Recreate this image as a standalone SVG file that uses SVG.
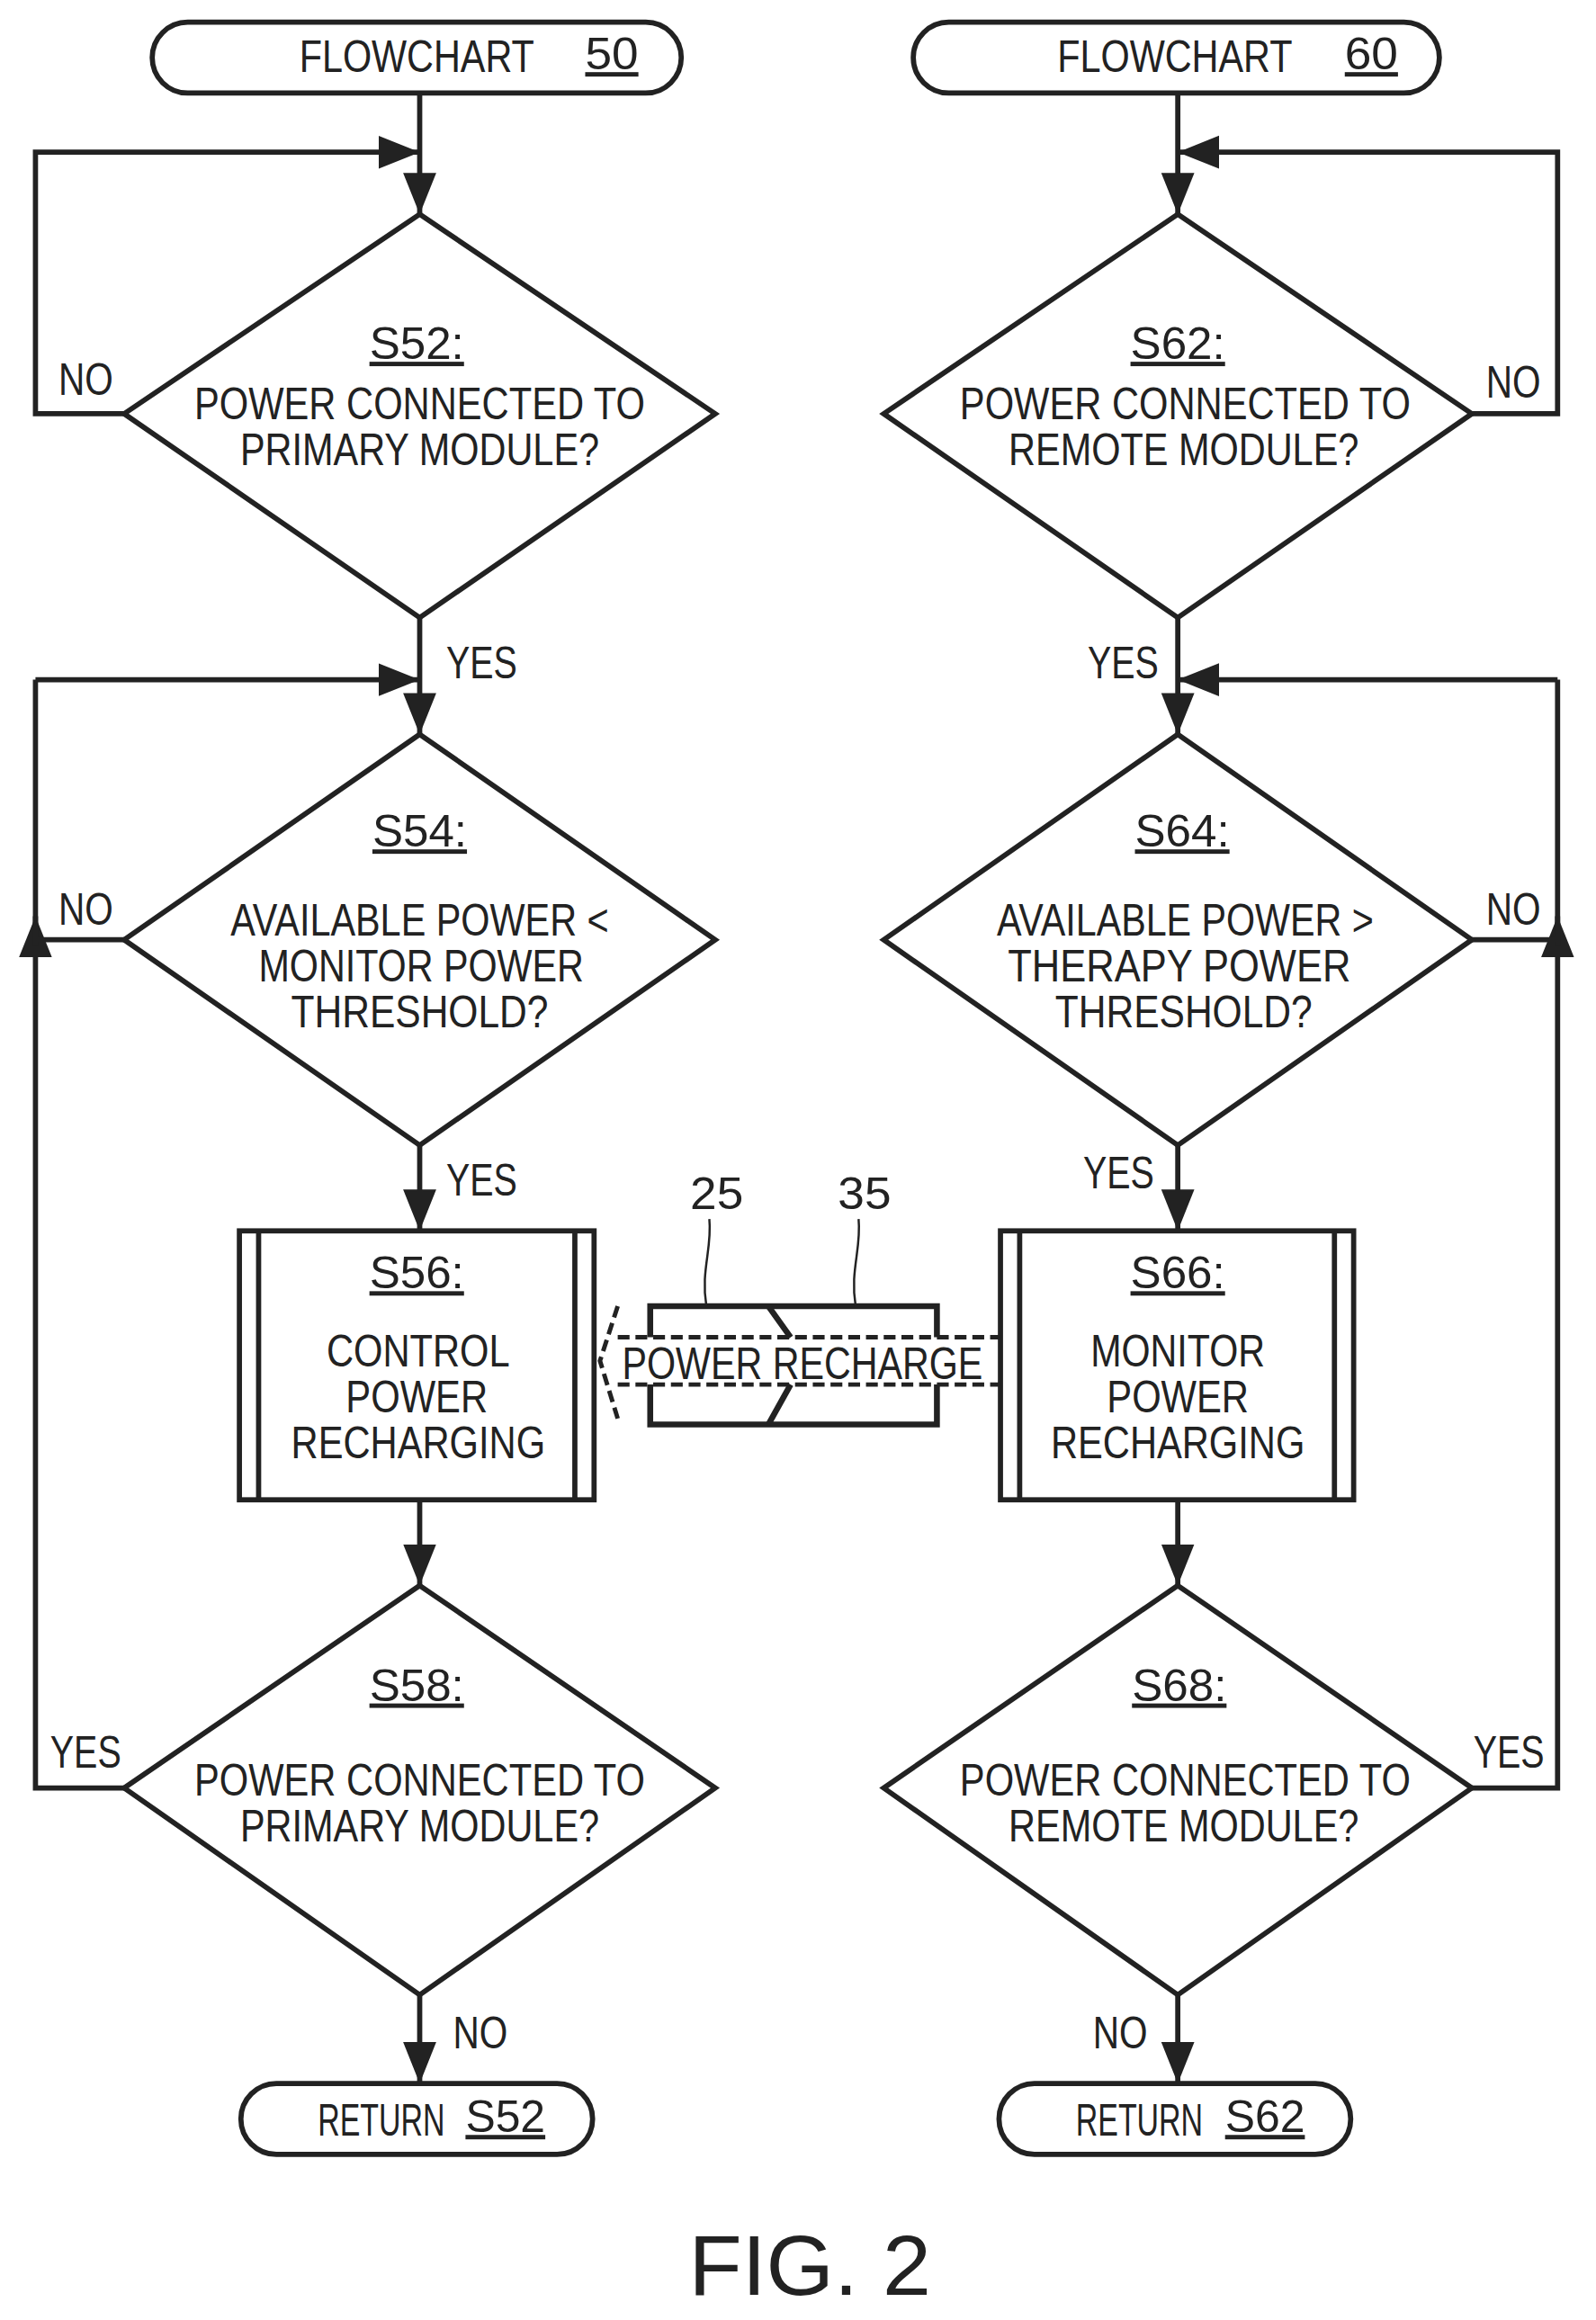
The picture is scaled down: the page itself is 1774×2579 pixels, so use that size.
<svg xmlns="http://www.w3.org/2000/svg" width="1774" height="2579" viewBox="0 0 1774 2579">
<style>
.s{fill:none;stroke:#222;stroke-width:3.5}
.w{fill:#fff;stroke:#222;stroke-width:3.5}
text{font-family:"Liberation Sans",Arial,sans-serif;fill:#222;font-size:30px;text-anchor:middle}
.u{text-decoration:underline}
.d{fill:none;stroke:#222;stroke-width:3;stroke-dasharray:8 4}
</style>
<defs>
<marker id="A" viewBox="0 0 10 10" refX="10" refY="5" markerWidth="28" markerHeight="28" orient="auto" markerUnits="userSpaceOnUse"><path d="M0,1L10,5L0,9z" fill="#222"/></marker></defs>
<rect width="1774" height="2579" fill="#fff"/>
<g transform="scale(1.6426)">
<g id="connectors">
<path class="s" d="M284,63V145" marker-end="url(#A)"/>
<path class="s" d="M84,280H24V103H284" marker-end="url(#A)"/>
<path class="s" d="M284,418V497" marker-end="url(#A)"/>
<path class="s" d="M24,460H284" marker-end="url(#A)"/>
<path class="s" d="M84,1210H24V620" marker-end="url(#A)"/>
<path class="s" d="M84,636H24M24,640V460"/>
<path class="s" d="M284,775V833" marker-end="url(#A)"/>
<path class="s" d="M284,1015V1073" marker-end="url(#A)"/>
<path class="s" d="M284,1350V1410" marker-end="url(#A)"/>
<path class="s" d="M797,63V145" marker-end="url(#A)"/>
<path class="s" d="M996,280H1054V103H797" marker-end="url(#A)"/>
<path class="s" d="M797,418V497" marker-end="url(#A)"/>
<path class="s" d="M1054,460H797" marker-end="url(#A)"/>
<path class="s" d="M996,1210H1054V620" marker-end="url(#A)"/>
<path class="s" d="M996,636H1054M1054,640V460"/>
<path class="s" d="M797,775V833" marker-end="url(#A)"/>
<path class="s" d="M797,1015V1073" marker-end="url(#A)"/>
<path class="s" d="M797,1350V1410" marker-end="url(#A)"/>
<text x="58" y="267" textLength="37" lengthAdjust="spacingAndGlyphs">NO</text>
<text x="326" y="459" textLength="48" lengthAdjust="spacingAndGlyphs">YES</text>
<text x="58" y="626" textLength="37" lengthAdjust="spacingAndGlyphs">NO</text>
<text x="326" y="809" textLength="48" lengthAdjust="spacingAndGlyphs">YES</text>
<text x="58" y="1196" textLength="48" lengthAdjust="spacingAndGlyphs">YES</text>
<text x="325" y="1386" textLength="37" lengthAdjust="spacingAndGlyphs">NO</text>
<text x="1024" y="269" textLength="37" lengthAdjust="spacingAndGlyphs">NO</text>
<text x="760" y="459" textLength="48" lengthAdjust="spacingAndGlyphs">YES</text>
<text x="1024" y="626" textLength="37" lengthAdjust="spacingAndGlyphs">NO</text>
<text x="757" y="804" textLength="48" lengthAdjust="spacingAndGlyphs">YES</text>
<text x="1021" y="1196" textLength="48" lengthAdjust="spacingAndGlyphs">YES</text>
<text x="758" y="1386" textLength="37" lengthAdjust="spacingAndGlyphs">NO</text>
</g>
<g id="start50"><rect class="w" x="103" y="15" width="358" height="48" rx="24"/><text x="282" y="49" textLength="159" lengthAdjust="spacingAndGlyphs">FLOWCHART</text><text class="u" x="414" y="47" textLength="36" lengthAdjust="spacingAndGlyphs">50</text></g>
<g id="start60"><rect class="w" x="618" y="15" width="356" height="48" rx="24"/><text x="795" y="49" textLength="159" lengthAdjust="spacingAndGlyphs">FLOWCHART</text><text class="u" x="928" y="47" textLength="36" lengthAdjust="spacingAndGlyphs">60</text></g>
<g id="S52"><path class="w" d="M284,145L484,280L284,418L84,280z"/><text class="u" x="282" y="243" textLength="64" lengthAdjust="spacingAndGlyphs">S52:</text><text x="284" y="284" textLength="305" lengthAdjust="spacingAndGlyphs">POWER CONNECTED TO</text><text x="284" y="315" textLength="243" lengthAdjust="spacingAndGlyphs">PRIMARY MODULE?</text></g>
<g id="S54"><path class="w" d="M284,497L484,636L284,775L84,636z"/><text class="u" x="284" y="573" textLength="64" lengthAdjust="spacingAndGlyphs">S54:</text><text x="284" y="633" textLength="256" lengthAdjust="spacingAndGlyphs">AVAILABLE POWER &lt;</text><text x="285" y="664" textLength="220" lengthAdjust="spacingAndGlyphs">MONITOR POWER</text><text x="284" y="695" textLength="174" lengthAdjust="spacingAndGlyphs">THRESHOLD?</text></g>
<g id="S56"><rect class="w" x="162" y="833" width="240" height="182"/><path class="s" d="M175,833V1015M389,833V1015"/><text class="u" x="282" y="872" textLength="64" lengthAdjust="spacingAndGlyphs">S56:</text><text x="283" y="925" textLength="124" lengthAdjust="spacingAndGlyphs">CONTROL</text><text x="282" y="956" textLength="96" lengthAdjust="spacingAndGlyphs">POWER</text><text x="283" y="987" textLength="172" lengthAdjust="spacingAndGlyphs">RECHARGING</text></g>
<g id="S58"><path class="w" d="M284,1073L484,1210L284,1350L84,1210z"/><text class="u" x="282" y="1151" textLength="64" lengthAdjust="spacingAndGlyphs">S58:</text><text x="284" y="1215" textLength="305" lengthAdjust="spacingAndGlyphs">POWER CONNECTED TO</text><text x="284" y="1246" textLength="243" lengthAdjust="spacingAndGlyphs">PRIMARY MODULE?</text></g>
<g id="ret52"><rect class="w" x="163" y="1410" width="238" height="48" rx="24"/><text x="258" y="1445" textLength="86" lengthAdjust="spacingAndGlyphs">RETURN</text><text class="u" x="342" y="1443" textLength="54" lengthAdjust="spacingAndGlyphs">S52</text></g>
<g id="S62"><path class="w" d="M797,145L996,280L797,418L598,280z"/><text class="u" x="797" y="243" textLength="64" lengthAdjust="spacingAndGlyphs">S62:</text><text x="802" y="284" textLength="305" lengthAdjust="spacingAndGlyphs">POWER CONNECTED TO</text><text x="801" y="315" textLength="237" lengthAdjust="spacingAndGlyphs">REMOTE MODULE?</text></g>
<g id="S64"><path class="w" d="M797,497L996,636L797,775L598,636z"/><text class="u" x="800" y="573" textLength="64" lengthAdjust="spacingAndGlyphs">S64:</text><text x="802" y="633" textLength="255" lengthAdjust="spacingAndGlyphs">AVAILABLE POWER &gt;</text><text x="798" y="664" textLength="232" lengthAdjust="spacingAndGlyphs">THERAPY POWER</text><text x="801" y="695" textLength="174" lengthAdjust="spacingAndGlyphs">THRESHOLD?</text></g>
<g id="S66"><rect class="w" x="677" y="833" width="239" height="182"/><path class="s" d="M690,833V1015M903,833V1015"/><text class="u" x="797" y="872" textLength="64" lengthAdjust="spacingAndGlyphs">S66:</text><text x="797" y="925" textLength="118" lengthAdjust="spacingAndGlyphs">MONITOR</text><text x="797" y="956" textLength="96" lengthAdjust="spacingAndGlyphs">POWER</text><text x="797" y="987" textLength="172" lengthAdjust="spacingAndGlyphs">RECHARGING</text></g>
<g id="S68"><path class="w" d="M797,1073L996,1210L797,1350L598,1210z"/><text class="u" x="798" y="1151" textLength="64" lengthAdjust="spacingAndGlyphs">S68:</text><text x="802" y="1215" textLength="305" lengthAdjust="spacingAndGlyphs">POWER CONNECTED TO</text><text x="801" y="1246" textLength="237" lengthAdjust="spacingAndGlyphs">REMOTE MODULE?</text></g>
<g id="ret62"><rect class="w" x="676" y="1410" width="238" height="48" rx="24"/><text x="771" y="1445" textLength="86" lengthAdjust="spacingAndGlyphs">RETURN</text><text class="u" x="856" y="1443" textLength="54" lengthAdjust="spacingAndGlyphs">S62</text></g>
<g id="recharge">
<path class="s" d="M440,905V884H634V905M440,937V964H634V937" style="stroke-width:4"/>
<path class="s" d="M520,884L535,905M535,937L520,964" style="stroke-width:4"/>
<path class="d" d="M418,905H677M418,937H677"/>
<path class="d" d="M418,884L406,921L418,960"/>
<text x="543" y="933" textLength="244" lengthAdjust="spacingAndGlyphs">POWER RECHARGE</text>
<text x="485" y="818" textLength="36" lengthAdjust="spacingAndGlyphs">25</text><text x="585" y="818" textLength="36" lengthAdjust="spacingAndGlyphs">35</text>
<path fill="none" stroke="#222" stroke-width="1.5" d="M480,825C482,845 474,860 478,884M581,825C583,845 575,860 579,884"/>
</g>
<text x="548" y="1553" style="font-size:58px" textLength="164" lengthAdjust="spacingAndGlyphs">FIG. 2</text>
</g>
</svg>
